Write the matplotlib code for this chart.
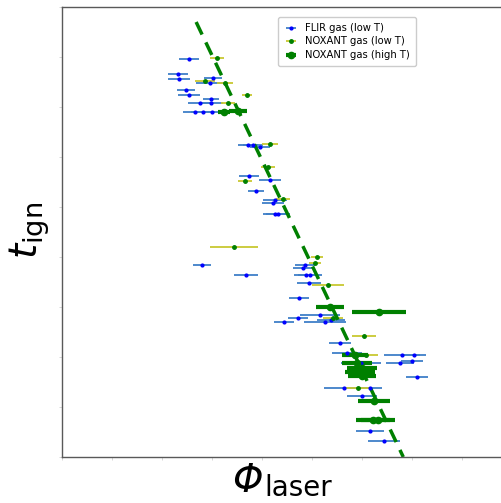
import numpy as np
import matplotlib
matplotlib.use("Agg")
import matplotlib.pyplot as plt

# arbitrary units (no tick labels on the original)
flir_x = [127, 116, 117, 151, 148, 124, 127, 149, 138, 149, 133, 141, 150,
          186, 191, 198, 187, 208, 194, 213, 211, 213, 216, 140, 184, 243,
          241, 244, 248, 247, 237, 258, 236, 222, 263, 269, 278, 285, 340,
          352, 299, 338, 350, 355, 282, 308, 300, 308, 322]
flir_y = [398, 383, 378, 379, 374, 367, 362, 358, 354, 354, 345, 345, 345,
          312, 312, 310, 281, 277, 266, 257, 254, 243, 243, 192, 182, 192,
          189, 182, 182, 174, 159, 142, 139, 135, 135, 137, 114, 104, 102,
          102, 94, 94, 96, 80, 69, 69, 61, 26, 16]
flir_xerr = [10, 10, 11, 9, 14, 9, 11, 8, 12, 12, 12, 12, 12,
             10, 10, 10, 10, 11, 8, 12, 11, 12, 12, 9, 12, 10,
             10, 12, 12, 12, 10, 20, 10, 10, 21, 14, 11, 15, 18,
             12, 20, 14, 11, 11, 20, 12, 15, 14, 16]

nox_low_x = [155, 143, 163, 185, 166, 208, 206, 183, 221, 172, 255, 253,
             266, 271, 302, 304, 296]
nox_low_y = [399, 376, 374, 362, 354, 313, 290, 276, 258, 210, 200, 194,
             172, 139, 121, 102, 69]
nox_low_xerr = [7, 10, 8, 5, 7, 8, 7, 7, 7, 24, 6, 6, 16, 10, 12, 12, 12]

nox_high_x = [162, 176, 268, 317, 293, 295, 300, 298, 300, 312, 311, 316]
nox_high_y = [345, 346, 150, 145, 102, 94, 89, 85, 81, 56, 37, 37]
nox_high_xerr = [6, 9, 14, 27, 13, 15, 15, 15, 14, 16, 17, 17]

fit_x = [134, 341]
fit_y = [435, 0]

fig = plt.figure(figsize=(5.01, 5.03), dpi=100)
ax = fig.add_axes([62 / 501, 46 / 503, 0.885, 450 / 503])

ax.errorbar(flir_x, flir_y, xerr=flir_xerr, fmt=".", color="b", ms=4,
            ecolor="#3f7fc8", elinewidth=1.3, capsize=0,
            label="FLIR gas (low T)")
ax.errorbar(nox_low_x, nox_low_y, xerr=nox_low_xerr, fmt=".", color="g", ms=5,
            ecolor="#c8c832", elinewidth=1.3, capsize=0,
            label="NOXANT gas (low T)")
ax.errorbar(nox_high_x, nox_high_y, xerr=nox_high_xerr, fmt="o", color="g",
            ms=4.5, ecolor="g", elinewidth=3, capsize=0,
            label="NOXANT gas (high T)")
ax.plot(fit_x, fit_y, "--", color="g", lw=2.5, dashes=(4, 2.5))

ax.set_xlim(0, 443)
ax.set_ylim(0, 450)
ax.tick_params(labelbottom=False, labelleft=False, length=2,
               color="0.82", width=0.6)
for s in ax.spines.values():
    s.set_color("0.35")
    s.set_linewidth(1.0)

# x label: italic Phi with upright subscript
fig.text(263 / 501, 1 - 481 / 503, "Φ", fontsize=28, style="italic",
         ha="right", va="center")
fig.text(264 / 501, 1 - 488 / 503, "laser", fontsize=20,
         ha="left", va="center")
fig.text(0.06, 1 - 230 / 503, r"$t_{\rm ign}$", fontsize=28, rotation=90,
         ha="center", va="center")

ax.legend(loc="upper left", bbox_to_anchor=(273 / 501, 1 - 12 / 503),
          bbox_transform=fig.transFigure, fontsize=7.2, framealpha=1,
          borderpad=0.6, handlelength=1.3, labelspacing=0.35)

fig.savefig("out.png", dpi=100)
